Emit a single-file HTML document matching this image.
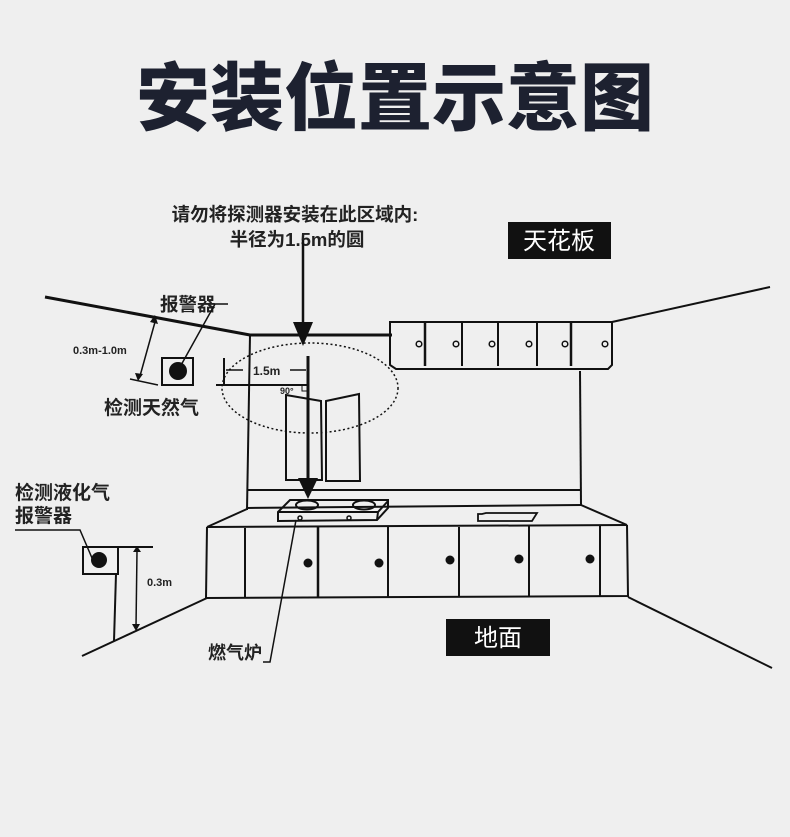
<!DOCTYPE html>
<html><head><meta charset="utf-8"><style>
html,body{margin:0;padding:0;}
body{width:790px;height:837px;background:#efefef;overflow:hidden;position:relative;font-family:"Liberation Sans","Noto Sans CJK SC",sans-serif;}
svg{position:absolute;left:0;top:0;}
</style></head><body>
<svg width="790" height="837" viewBox="0 0 790 837" xmlns="http://www.w3.org/2000/svg">
<rect width="790" height="837" fill="#efefef"/>
<text x="395" y="124" text-anchor="middle" font-family="Noto Sans CJK SC, sans-serif" font-weight="900" font-size="74" fill="#1d2130">安装位置示意图</text>

<g font-family="Liberation Sans, Noto Sans CJK SC, sans-serif" fill="#222">
<text x="295" y="221" text-anchor="middle" font-size="18.5" font-weight="bold">请勿将探测器安装在此区域内:</text>
<text x="297" y="246" text-anchor="middle" font-size="18.5" font-weight="bold">半径为1.5m的圆</text>
<text x="160" y="311" font-size="18.5" font-weight="bold">报警器</text>
<text x="73" y="354" font-size="11" font-weight="bold">0.3m-1.0m</text>
<text x="104" y="414" font-size="19" font-weight="bold">检测天然气</text>
<text x="15" y="499" font-size="19" font-weight="bold">检测液化气</text>
<text x="15" y="522" font-size="19" font-weight="bold">报警器</text>
<text x="147" y="586" font-size="11" font-weight="bold">0.3m</text>
<text x="253" y="375" font-size="12" font-weight="bold">1.5m</text>
<text x="280" y="394" font-size="9" font-weight="bold">90°</text>
<text x="208" y="659" font-size="18" font-weight="bold">燃气炉</text>
</g>

<rect x="508" y="222" width="103" height="37" fill="#111"/>
<text x="559" y="249" text-anchor="middle" font-family="Noto Sans CJK SC, sans-serif" font-size="24" fill="#fff">天花板</text>
<rect x="446" y="619" width="104" height="37" fill="#111"/>
<text x="498" y="646" text-anchor="middle" font-family="Noto Sans CJK SC, sans-serif" font-size="24" fill="#fff">地面</text>

<g stroke="#111" fill="none" stroke-width="2">
<line x1="45" y1="297" x2="250" y2="335" stroke-width="3"/>
<line x1="250" y1="335" x2="392" y2="335" stroke-width="3"/>
<line x1="612" y1="322" x2="770" y2="287"/>
<path d="M390 322 H612 V365 L608 369 H396 L390 365 Z"/>
<line x1="425" y1="322" x2="425" y2="366" stroke-width="2.5"/>
<line x1="462" y1="322" x2="462" y2="366"/>
<line x1="498" y1="322" x2="498" y2="366"/>
<line x1="537" y1="322" x2="537" y2="366"/>
<line x1="571" y1="322" x2="571" y2="366" stroke-width="2.5"/>
<g stroke-width="1.5">
<circle cx="419" cy="344" r="2.8"/><circle cx="456" cy="344" r="2.8"/><circle cx="492" cy="344" r="2.8"/><circle cx="529" cy="344" r="2.8"/><circle cx="565" cy="344" r="2.8"/><circle cx="605" cy="344" r="2.8"/>
</g>
<line x1="250" y1="335" x2="247" y2="510"/>
<line x1="580" y1="371" x2="581" y2="505"/>
<line x1="247" y1="490" x2="581" y2="490"/>
<line x1="247" y1="508" x2="581" y2="505"/>
<line x1="581" y1="505" x2="627" y2="525"/>
<line x1="247" y1="509" x2="207" y2="527"/>
<line x1="207" y1="527" x2="627" y2="525"/>
<path d="M207 527 L206 598 L628 596 L627 525"/>
<line x1="245" y1="528" x2="245" y2="597"/>
<line x1="318" y1="527" x2="318" y2="597" stroke-width="2.5"/>
<line x1="388" y1="527" x2="388" y2="597"/>
<line x1="459" y1="527" x2="459" y2="597"/>
<line x1="529" y1="526" x2="529" y2="596"/>
<line x1="600" y1="526" x2="600" y2="596"/>
<line x1="628" y1="597" x2="772" y2="668"/>
<line x1="207" y1="598" x2="82" y2="656"/>
<path d="M278 512 L290 500 L388 500 L388 508 L377 520 L278 521 Z"/>
<line x1="278" y1="512" x2="378" y2="512"/>
<line x1="378" y1="512" x2="388" y2="501"/>
<line x1="378" y1="512" x2="377" y2="520"/>
<ellipse cx="307" cy="505" rx="11" ry="4.5"/>
<ellipse cx="364" cy="505" rx="11" ry="4.5"/>
<circle cx="300" cy="518" r="2" stroke-width="1.5"/>
<circle cx="349" cy="518" r="2" stroke-width="1.5"/>
<path d="M478 514 L482 514 L486 513 L537 513 L532 521 L478 521 Z" stroke-width="1.8"/>
<path d="M286 395 L321 401 L322 480 L286 480 Z"/>
<path d="M326 401 L359 394 L360 481 L326 481 Z"/>
<polyline points="296,520 270,662 263,662" stroke-width="1.5"/>
<ellipse cx="310" cy="388" rx="88" ry="45" stroke-width="1.5" stroke-dasharray="2 2.5"/>
<line x1="224" y1="358" x2="224" y2="386" stroke-width="2"/>
<line x1="216" y1="385" x2="308" y2="385" stroke-width="2"/>
<line x1="226" y1="370" x2="243" y2="370" stroke-width="1.5"/>
<line x1="290" y1="370" x2="306" y2="370" stroke-width="1.5"/>
<polyline points="302,385 302,391 308,391" stroke-width="1"/>
<line x1="303" y1="240" x2="303" y2="325" stroke-width="2.5"/>
<line x1="308" y1="356" x2="308" y2="482" stroke-width="3"/>
<rect x="162" y="358" width="31" height="27"/>
<polyline points="228,304 215,304 180,367" stroke-width="1.5"/>
<line x1="155" y1="322" x2="140" y2="376" stroke-width="1.5"/>
<line x1="130" y1="379" x2="158" y2="385" stroke-width="1.5"/>
<rect x="83" y="547" width="35" height="27"/>
<polyline points="15,530 80,530 92,558" stroke-width="1.5"/>
<line x1="118" y1="547" x2="153" y2="547"/>
<line x1="116" y1="574" x2="114" y2="641"/>
<line x1="137" y1="551" x2="136" y2="627" stroke-width="1.5"/>
</g>
<g fill="#111">
<polygon points="293,322 313,322 303,346"/>
<polygon points="298,478 318,478 308,499"/>
<polygon points="150,322 158,324 155,315"/>
<polygon points="135,373 143,374 138,381"/>
<polygon points="133,552 141,552 137,546"/>
<polygon points="132,624 140,624 136,631"/>
<circle cx="178" cy="371" r="9"/>
<circle cx="99" cy="560" r="8"/>
<circle cx="308" cy="563" r="4.5"/><circle cx="379" cy="563" r="4.5"/><circle cx="450" cy="560" r="4.5"/><circle cx="519" cy="559" r="4.5"/><circle cx="590" cy="559" r="4.5"/>
</g>
</svg>
</body></html>
